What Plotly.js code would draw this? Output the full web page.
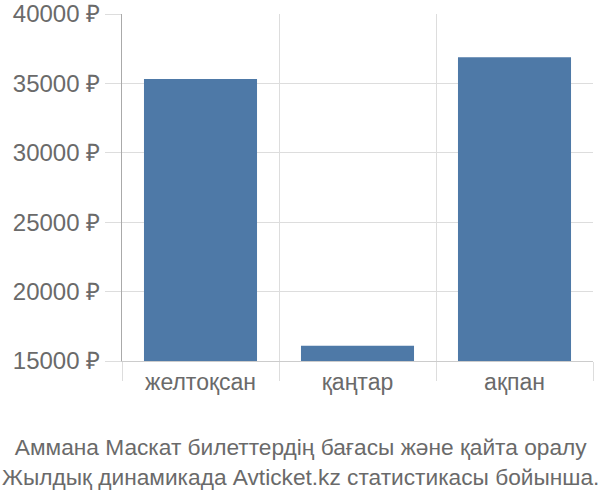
<!DOCTYPE html>
<html>
<head>
<meta charset="utf-8">
<script src="https://cdn.plot.ly/plotly-3.0.1.min.js"></script>
<style>
  html, body { margin: 0; padding: 0; background: #fff; }
  #chart { width: 600px; height: 500px; }
</style>
</head>
<body>
<div id="chart"></div>
<script>
/* ─── Data ─── */
const months = ['желтоқсан', 'қаңтар', 'ақпан'];
const prices = [35320, 16100, 36880];
const yTicks = [15000, 20000, 25000, 30000, 35000, 40000];
const caption = 'Аммана Маскат билеттердің бағасы және қайта оралу<br>' +
                'Жылдық динамикада Avticket.kz статистикасы бойынша.';

const TEXT = '#6a6a6a';
const GRID = '#dddddd';
const FONT = '"Liberation Sans", Arial, sans-serif';

const trace = {
  type: 'bar',
  x: months,
  y: prices,
  marker: { color: '#4e79a7' },
  hoverinfo: 'skip',
};

const layout = {
  width: 600,
  height: 500,
  paper_bgcolor: '#fff',
  plot_bgcolor: '#fff',
  font: { family: FONT, color: TEXT, size: 24 },
  margin: { l: 122, r: 7, t: 14, b: 139 },
  bargap: 0.28,
  showlegend: false,
  xaxis: {
    type: 'category',
    range: [-0.5, 2.5],
    tickson: 'boundaries',
    ticks: 'outside',
    ticklen: 19,
    tickcolor: GRID,
    showgrid: true,
    gridcolor: GRID,
    showline: true,
    linecolor: '#cccccc',
    tickfont: { size: 23, color: TEXT },
    fixedrange: true,
  },
  yaxis: {
    range: [15000, 40000],
    tickvals: yTicks,
    ticktext: yTicks.map(v => v + ' ₽'),
    ticks: 'outside',
    ticklen: 16,
    tickcolor: GRID,
    showgrid: true,
    gridcolor: GRID,
    zeroline: false,
    showline: true,
    linecolor: '#aaaaaa',
    tickfont: { size: 24, color: TEXT },
    fixedrange: true,
  },
  // caption below the plot, centred on the page
  annotations: [{
    text: caption,
    xref: 'paper', x: (300 - 122) / 471, xanchor: 'center',
    yref: 'paper', y: -0.206, yanchor: 'top',
    showarrow: false,
    align: 'center',
    font: { family: FONT, size: 22.7, color: TEXT },
  }],
};

Plotly.newPlot('chart', [trace], layout, { displayModeBar: false, staticPlot: true });
</script>
</body>
</html>
